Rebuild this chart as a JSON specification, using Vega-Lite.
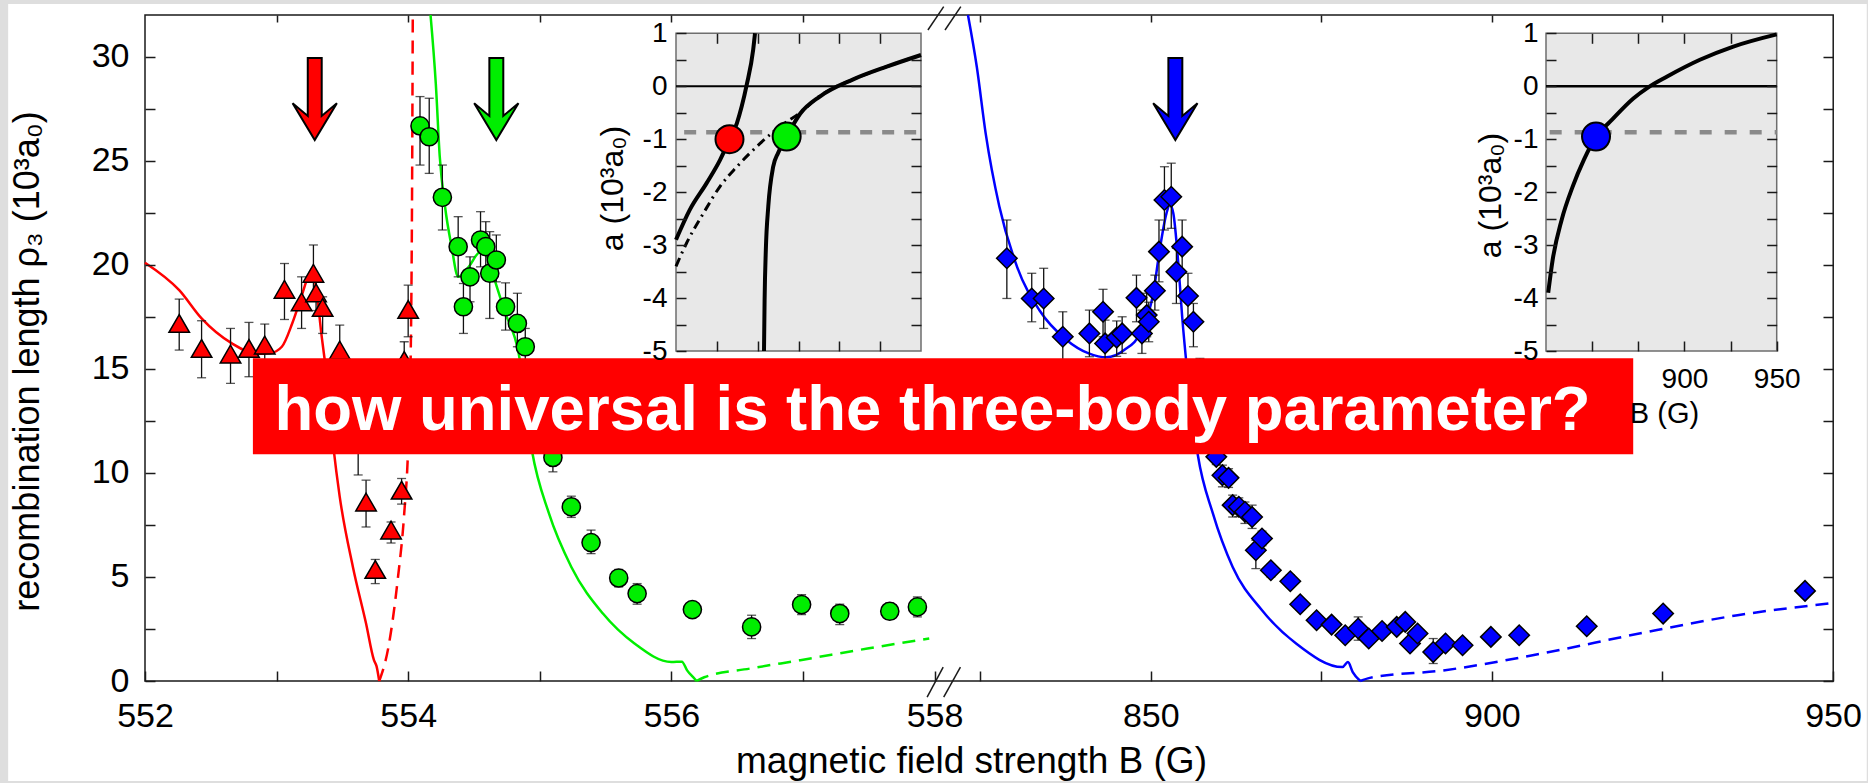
{
"$schema":"https://vega.github.io/schema/vega-lite/v6.json",
"width":1688,"height":666,
"autosize":{"type":"none"},
"padding":{"left":145,"top":15,"right":35,"bottom":102},
"background":"#dedede",
"config":{
 "font":"Liberation Sans",
 "view":{"stroke":null},
 "axis":{"domain":false,"grid":false,"labelFont":"Liberation Sans","titleFont":"Liberation Sans","labelColor":"#000","titleColor":"#000","tickColor":"#1a1a1a","tickWidth":1.5,"labelFlush":false,"labelOverlap":false,"titleFontWeight":"normal","labelFontWeight":"normal"}
},
"resolve":{"scale":{"x":"independent","y":"independent"},"axis":{"x":"independent","y":"independent"}},
"datasets":{
 "pts":[
  {"s":"red","B":552.26,"r":17.18,"lo":15.9,"hi":18.35},
  {"s":"red","B":552.43,"r":15.98,"lo":14.57,"hi":17.31},
  {"s":"red","B":552.65,"r":15.71,"lo":14.3,"hi":16.94},
  {"s":"red","B":552.79,"r":15.98,"lo":14.62,"hi":17.23},
  {"s":"red","B":552.91,"r":16.14,"lo":15.1,"hi":17.15},
  {"s":"red","B":553.06,"r":18.82,"lo":17.37,"hi":20.06},
  {"s":"red","B":553.19,"r":18.22,"lo":16.94,"hi":19.42},
  {"s":"red","B":553.28,"r":19.59,"lo":18.3,"hi":20.95},
  {"s":"red","B":553.3,"r":18.65,"lo":17.8,"hi":19.3},
  {"s":"red","B":553.35,"r":17.95,"lo":16.7,"hi":18.46},
  {"s":"red","B":553.48,"r":15.9,"lo":14.55,"hi":17.1},
  {"s":"red","B":553.62,"r":11.6,"lo":9.9,"hi":13.2},
  {"s":"red","B":553.68,"r":8.6,"lo":7.4,"hi":9.65},
  {"s":"red","B":553.75,"r":5.36,"lo":4.68,"hi":5.84},
  {"s":"red","B":553.87,"r":7.25,"lo":6.63,"hi":7.64},
  {"s":"red","B":553.95,"r":9.17,"lo":8.5,"hi":9.73},
  {"s":"red","B":553.97,"r":15.4,"lo":14.5,"hi":16.3},
  {"s":"red","B":554.0,"r":17.85,"lo":16.54,"hi":19.02},
  {"s":"green","B":554.09,"r":26.67,"lo":24.79,"hi":28.08},
  {"s":"green","B":554.16,"r":26.15,"lo":24.39,"hi":28.0},
  {"s":"green","B":554.26,"r":23.24,"lo":21.67,"hi":24.79},
  {"s":"green","B":554.38,"r":20.87,"lo":19.42,"hi":22.31},
  {"s":"green","B":554.42,"r":17.98,"lo":16.7,"hi":19.1},
  {"s":"green","B":554.47,"r":19.42,"lo":18.22,"hi":20.38},
  {"s":"green","B":554.55,"r":21.19,"lo":19.9,"hi":22.55},
  {"s":"green","B":554.59,"r":20.87,"lo":19.42,"hi":22.07},
  {"s":"green","B":554.62,"r":19.59,"lo":17.42,"hi":21.59},
  {"s":"green","B":554.67,"r":20.23,"lo":19.18,"hi":21.43},
  {"s":"green","B":554.74,"r":17.98,"lo":16.86,"hi":19.13},
  {"s":"green","B":554.83,"r":17.18,"lo":16.06,"hi":18.63},
  {"s":"green","B":554.89,"r":16.06,"lo":15.1,"hi":16.94},
  {"s":"green","B":554.96,"r":13.2,"lo":12.5,"hi":13.9},
  {"s":"green","B":555.1,"r":10.74,"lo":10.05,"hi":11.17},
  {"s":"green","B":555.24,"r":8.37,"lo":7.86,"hi":8.88},
  {"s":"green","B":555.39,"r":6.65,"lo":6.12,"hi":7.25},
  {"s":"green","B":555.6,"r":4.95,"lo":4.52,"hi":5.36},
  {"s":"green","B":555.74,"r":4.2,"lo":3.69,"hi":4.68},
  {"s":"green","B":556.16,"r":3.43,"lo":3.05,"hi":3.8},
  {"s":"green","B":556.61,"r":2.6,"lo":2.04,"hi":3.16},
  {"s":"green","B":556.99,"r":3.67,"lo":3.19,"hi":4.15},
  {"s":"green","B":557.28,"r":3.24,"lo":2.71,"hi":3.69},
  {"s":"green","B":557.66,"r":3.35,"lo":3.0,"hi":3.75},
  {"s":"green","B":557.87,"r":3.56,"lo":3.08,"hi":4.04},
  {"s":"blue","B":828.9,"r":20.31,"lo":18.38,"hi":22.15},
  {"s":"blue","B":832.55,"r":18.38,"lo":17.26,"hi":19.59},
  {"s":"blue","B":834.3,"r":18.38,"lo":16.94,"hi":19.83},
  {"s":"blue","B":837.1,"r":16.54,"lo":15.42,"hi":17.74},
  {"s":"blue","B":841.0,"r":16.7,"lo":15.58,"hi":17.82},
  {"s":"blue","B":843.0,"r":17.74,"lo":16.54,"hi":18.82},
  {"s":"blue","B":843.3,"r":16.22,"lo":15.4,"hi":17.34},
  {"s":"blue","B":845.0,"r":16.5,"lo":15.6,"hi":17.3},
  {"s":"blue","B":845.8,"r":16.7,"lo":15.74,"hi":17.5},
  {"s":"blue","B":847.9,"r":18.41,"lo":17.26,"hi":19.5},
  {"s":"blue","B":848.7,"r":16.7,"lo":15.74,"hi":17.82},
  {"s":"blue","B":849.4,"r":17.58,"lo":16.54,"hi":18.63},
  {"s":"blue","B":849.7,"r":17.26,"lo":16.3,"hi":18.2},
  {"s":"blue","B":850.6,"r":18.75,"lo":17.82,"hi":19.5},
  {"s":"blue","B":851.2,"r":20.63,"lo":19.18,"hi":22.15},
  {"s":"blue","B":852.0,"r":23.11,"lo":21.67,"hi":24.71},
  {"s":"blue","B":853.0,"r":23.27,"lo":21.75,"hi":24.88},
  {"s":"blue","B":853.75,"r":19.66,"lo":18.14,"hi":20.79},
  {"s":"blue","B":854.6,"r":20.87,"lo":19.59,"hi":22.15},
  {"s":"blue","B":855.45,"r":18.5,"lo":17.34,"hi":19.59},
  {"s":"blue","B":856.25,"r":17.26,"lo":16.06,"hi":18.14},
  {"s":"blue","B":857.2,"r":14.5,"lo":13.5,"hi":15.5},
  {"s":"blue","B":858.3,"r":12.5,"lo":11.8,"hi":13.2},
  {"s":"blue","B":859.6,"r":10.77,"lo":10.4,"hi":11.2},
  {"s":"blue","B":860.5,"r":9.89,"lo":9.33,"hi":10.37},
  {"s":"blue","B":861.4,"r":9.76,"lo":9.3,"hi":10.2},
  {"s":"blue","B":862.0,"r":8.45,"lo":7.88,"hi":8.93},
  {"s":"blue","B":862.9,"r":8.37,"lo":7.9,"hi":8.8},
  {"s":"blue","B":863.8,"r":8.13,"lo":7.57,"hi":8.6},
  {"s":"blue","B":864.85,"r":7.88,"lo":7.33,"hi":8.45},
  {"s":"blue","B":865.4,"r":6.28,"lo":5.4,"hi":6.76},
  {"s":"blue","B":866.3,"r":6.85,"lo":6.5,"hi":7.2},
  {"s":"blue","B":867.6,"r":5.32,"lo":5.0,"hi":5.6},
  {"s":"blue","B":870.45,"r":4.79,"lo":4.5,"hi":5.1},
  {"s":"blue","B":871.9,"r":3.69,"lo":3.4,"hi":3.95},
  {"s":"blue","B":874.3,"r":2.92,"lo":2.7,"hi":3.15},
  {"s":"blue","B":876.5,"r":2.71,"lo":2.5,"hi":2.95},
  {"s":"blue","B":878.5,"r":2.2,"lo":2.0,"hi":2.45},
  {"s":"blue","B":880.4,"r":2.52,"lo":1.96,"hi":3.08},
  {"s":"blue","B":881.95,"r":2.04,"lo":1.8,"hi":2.3},
  {"s":"blue","B":883.9,"r":2.4,"lo":2.15,"hi":2.65},
  {"s":"blue","B":886.05,"r":2.6,"lo":2.35,"hi":2.85},
  {"s":"blue","B":887.3,"r":2.84,"lo":2.6,"hi":3.1},
  {"s":"blue","B":888.0,"r":1.8,"lo":1.55,"hi":2.05},
  {"s":"blue","B":889.1,"r":2.28,"lo":2.05,"hi":2.5},
  {"s":"blue","B":891.4,"r":1.39,"lo":0.84,"hi":2.04},
  {"s":"blue","B":893.2,"r":1.8,"lo":1.55,"hi":2.05},
  {"s":"blue","B":895.7,"r":1.72,"lo":1.5,"hi":1.95},
  {"s":"blue","B":899.85,"r":2.12,"lo":1.9,"hi":2.35},
  {"s":"blue","B":904.0,"r":2.2,"lo":1.95,"hi":2.45},
  {"s":"blue","B":913.9,"r":2.63,"lo":2.4,"hi":2.85},
  {"s":"blue","B":925.1,"r":3.24,"lo":3.0,"hi":3.5},
  {"s":"blue","B":945.9,"r":4.33,"lo":4.1,"hi":4.55}
 ],
 "curves":[
  {"s":"red","br":"neg","B":552.0,"r":20.1},
  {"s":"red","br":"neg","B":552.26,"r":18.78},
  {"s":"red","br":"neg","B":552.43,"r":17.42},
  {"s":"red","br":"neg","B":552.66,"r":16.22},
  {"s":"red","br":"neg","B":552.85,"r":15.72},
  {"s":"red","br":"neg","B":552.95,"r":15.75},
  {"s":"red","br":"neg","B":553.04,"r":16.06},
  {"s":"red","br":"neg","B":553.12,"r":17.2},
  {"s":"red","br":"neg","B":553.19,"r":18.5},
  {"s":"red","br":"neg","B":553.24,"r":19.45},
  {"s":"red","br":"neg","B":553.27,"r":19.8},
  {"s":"red","br":"neg","B":553.31,"r":18.4},
  {"s":"red","br":"neg","B":553.34,"r":16.7},
  {"s":"red","br":"neg","B":553.37,"r":15.2},
  {"s":"red","br":"neg","B":553.43,"r":11.33},
  {"s":"red","br":"neg","B":553.48,"r":8.85},
  {"s":"red","br":"neg","B":553.58,"r":5.48},
  {"s":"red","br":"neg","B":553.68,"r":2.76},
  {"s":"red","br":"neg","B":553.74,"r":1.0},
  {"s":"red","br":"neg","B":553.76,"r":0.7},
  {"s":"red","br":"neg","B":553.78,"r":0.0},
  {"s":"red","br":"pos","B":553.78,"r":0.0},
  {"s":"red","br":"pos","B":553.85,"r":1.63},
  {"s":"red","br":"pos","B":553.92,"r":4.84},
  {"s":"red","br":"pos","B":553.97,"r":8.05},
  {"s":"red","br":"pos","B":554.0,"r":11.25},
  {"s":"red","br":"pos","B":554.02,"r":16.0},
  {"s":"red","br":"pos","B":554.03,"r":24.0},
  {"s":"red","br":"pos","B":554.035,"r":32.0},
  {"s":"green","br":"neg","B":554.17,"r":32.0},
  {"s":"green","br":"neg","B":554.21,"r":28.7},
  {"s":"green","br":"neg","B":554.24,"r":25.2},
  {"s":"green","br":"neg","B":554.28,"r":22.8},
  {"s":"green","br":"neg","B":554.33,"r":20.87},
  {"s":"green","br":"neg","B":554.38,"r":19.42},
  {"s":"green","br":"neg","B":554.46,"r":19.9},
  {"s":"green","br":"neg","B":554.55,"r":20.63},
  {"s":"green","br":"neg","B":554.6,"r":20.4},
  {"s":"green","br":"neg","B":554.65,"r":19.42},
  {"s":"green","br":"neg","B":554.73,"r":17.82},
  {"s":"green","br":"neg","B":554.84,"r":15.74},
  {"s":"green","br":"neg","B":554.94,"r":11.09},
  {"s":"green","br":"neg","B":555.07,"r":8.05},
  {"s":"green","br":"neg","B":555.24,"r":5.48},
  {"s":"green","br":"neg","B":555.48,"r":3.24},
  {"s":"green","br":"neg","B":555.72,"r":1.8},
  {"s":"green","br":"neg","B":556.0,"r":0.91},
  {"s":"green","br":"neg","B":556.08,"r":0.93},
  {"s":"green","br":"neg","B":556.12,"r":0.51},
  {"s":"green","br":"neg","B":556.18,"r":0.08},
  {"s":"green","br":"neg","B":556.19,"r":0.0},
  {"s":"green","br":"pos","B":556.19,"r":0.0},
  {"s":"green","br":"pos","B":556.25,"r":0.18},
  {"s":"green","br":"pos","B":556.6,"r":0.6},
  {"s":"green","br":"pos","B":556.98,"r":1.0},
  {"s":"green","br":"pos","B":557.49,"r":1.56},
  {"s":"green","br":"pos","B":557.96,"r":2.04},
  {"s":"blue","br":"neg","B":823.2,"r":32.0},
  {"s":"blue","br":"neg","B":824.5,"r":29.5},
  {"s":"blue","br":"neg","B":825.8,"r":26.3},
  {"s":"blue","br":"neg","B":827.8,"r":22.8},
  {"s":"blue","br":"neg","B":830.4,"r":19.9},
  {"s":"blue","br":"neg","B":833.7,"r":17.8},
  {"s":"blue","br":"neg","B":837.6,"r":16.4},
  {"s":"blue","br":"neg","B":840.9,"r":15.74},
  {"s":"blue","br":"neg","B":843.5,"r":15.55},
  {"s":"blue","br":"neg","B":846.1,"r":15.9},
  {"s":"blue","br":"neg","B":848.7,"r":16.86},
  {"s":"blue","br":"neg","B":850.35,"r":18.6},
  {"s":"blue","br":"neg","B":851.3,"r":20.7},
  {"s":"blue","br":"neg","B":852.3,"r":22.47},
  {"s":"blue","br":"neg","B":852.8,"r":22.9},
  {"s":"blue","br":"neg","B":853.3,"r":22.47},
  {"s":"blue","br":"neg","B":854.0,"r":20.2},
  {"s":"blue","br":"neg","B":854.6,"r":17.5},
  {"s":"blue","br":"neg","B":855.3,"r":15.0},
  {"s":"blue","br":"neg","B":856.9,"r":10.85},
  {"s":"blue","br":"neg","B":859.1,"r":8.05},
  {"s":"blue","br":"neg","B":862.0,"r":5.48},
  {"s":"blue","br":"neg","B":866.3,"r":3.4},
  {"s":"blue","br":"neg","B":871.3,"r":1.8},
  {"s":"blue","br":"neg","B":878.1,"r":0.67},
  {"s":"blue","br":"neg","B":878.9,"r":0.91},
  {"s":"blue","br":"neg","B":879.6,"r":0.43},
  {"s":"blue","br":"neg","B":880.7,"r":0.0},
  {"s":"blue","br":"pos","B":880.7,"r":0.0},
  {"s":"blue","br":"pos","B":882.1,"r":0.15},
  {"s":"blue","br":"pos","B":892.9,"r":0.51},
  {"s":"blue","br":"pos","B":907.3,"r":1.32},
  {"s":"blue","br":"pos","B":921.6,"r":2.28},
  {"s":"blue","br":"pos","B":936.0,"r":3.16},
  {"s":"blue","br":"pos","B":950.0,"r":3.75}
 ],
 "arrows":[{"s":"red","B":553.29},{"s":"green","B":554.67},{"s":"blue","B":853.6}],
 "insetCurves":[
  {"c":"L1","B":552.0,"a":-2.9},{"c":"L1","B":552.34,"a":-2.33},{"c":"L1","B":552.75,"a":-1.83},{"c":"L1","B":553.08,"a":-1.39},{"c":"L1","B":553.31,"a":-1.01},{"c":"L1","B":553.49,"a":-0.7},{"c":"L1","B":553.61,"a":-0.38},{"c":"L1","B":553.73,"a":0.02},{"c":"L1","B":553.89,"a":0.69},{"c":"L1","B":553.935,"a":1.0},
  {"c":"L2","B":554.155,"a":-5.0},{"c":"L2","B":554.17,"a":-4.03},{"c":"L2","B":554.2,"a":-3.09},{"c":"L2","B":554.26,"a":-2.27},{"c":"L2","B":554.38,"a":-1.52},{"c":"L2","B":554.5,"a":-1.26},{"c":"L2","B":554.71,"a":-0.95},{"c":"L2","B":555.04,"a":-0.52},{"c":"L2","B":555.53,"a":-0.19},{"c":"L2","B":556.34,"a":0.13},{"c":"L2","B":557.16,"a":0.37},{"c":"L2","B":558.0,"a":0.59},
  {"c":"LDD","B":552.0,"a":-3.4},{"c":"LDD","B":552.26,"a":-2.96},{"c":"LDD","B":552.67,"a":-2.4},{"c":"LDD","B":553.08,"a":-1.89},{"c":"LDD","B":553.49,"a":-1.52},{"c":"LDD","B":554.06,"a":-1.08},{"c":"LDD","B":554.55,"a":-0.76},{"c":"LDD","B":555.04,"a":-0.5},{"c":"LDD","B":555.53,"a":-0.18},{"c":"LDD","B":556.34,"a":0.13},{"c":"LDD","B":557.16,"a":0.37},{"c":"LDD","B":558.0,"a":0.59},
  {"c":"R1","B":826.2,"a":-3.9},{"c":"R1","B":828.6,"a":-3.28},{"c":"R1","B":833.5,"a":-2.52},{"c":"R1","B":839.5,"a":-1.89},{"c":"R1","B":845.5,"a":-1.39},{"c":"R1","B":852.1,"a":-0.95},{"c":"R1","B":859.7,"a":-0.67},{"c":"R1","B":872.3,"a":-0.23},{"c":"R1","B":880.4,"a":-0.02},{"c":"R1","B":890.4,"a":0.18},{"c":"R1","B":908.4,"a":0.5},{"c":"R1","B":926.5,"a":0.75},{"c":"R1","B":950.0,"a":0.98}
 ],
 "insetPts":[{"s":"red","B":553.31,"a":-1.0},{"s":"green","B":554.71,"a":-0.95},{"s":"blue","B":852.1,"a":-0.95}]
},
"layer":[
 {"data":{"values":[{}]},"layer":[
  {"mark":{"type":"rect","fill":"#ffffff"},
   "encoding":{"x":{"datum":550.96,"type":"quantitative","scale":{"domain":[552,558],"range":[0,789.5],"nice":false,"zero":false},"axis":null},"x2":{"datum":565.085},
   "y":{"datum":32.53,"type":"quantitative","scale":{"domain":[0,32],"range":[666,0],"nice":false,"zero":false},"axis":null},"y2":{"datum":-4.81}}},
  {"mark":{"type":"rect","fillOpacity":0,"stroke":"#1a1a1a","strokeWidth":1.5},
   "encoding":{"x":{"datum":552,"type":"quantitative","scale":{"domain":[552,558],"range":[0,789.5],"nice":false,"zero":false},"axis":null},"x2":{"datum":564.83},
   "y":{"datum":32,"type":"quantitative","scale":{"domain":[0,32],"range":[666,0],"nice":false,"zero":false},"axis":null},"y2":{"datum":0}}}
 ]},
 {"layer":[
  {"data":{"name":"curves"},"transform":[{"filter":"datum.s !== 'blue' && datum.br === 'neg'"}],
   "mark":{"type":"line","strokeWidth":2.5,"interpolate":"monotone"},
   "encoding":{
    "x":{"field":"B","type":"quantitative","scale":{"domain":[552,558],"range":[0,789.5],"nice":false,"zero":false},"axis":null},
    "y":{"field":"r","type":"quantitative","scale":{"domain":[0,32],"range":[666,0],"nice":false,"zero":false},"axis":null},
    "color":{"field":"s","type":"nominal","scale":{"domain":["red","green","blue"],"range":["#ff0000","#00ee00","#0000ff"]},"legend":null}}},
  {"data":{"name":"curves"},"transform":[{"filter":"datum.s !== 'blue' && datum.br === 'pos'"}],
   "mark":{"type":"line","strokeWidth":2.5,"strokeDash":[13,8],"interpolate":"monotone"},
   "encoding":{
    "x":{"field":"B","type":"quantitative","scale":{"domain":[552,558],"range":[0,789.5],"nice":false,"zero":false},"axis":null},
    "y":{"field":"r","type":"quantitative","scale":{"domain":[0,32],"range":[666,0],"nice":false,"zero":false},"axis":null},
    "color":{"field":"s","type":"nominal","scale":{"domain":["red","green","blue"],"range":["#ff0000","#00ee00","#0000ff"]},"legend":null}}},
  {"data":{"name":"pts"},"transform":[{"filter":"datum.s !== 'blue'"}],
   "mark":{"type":"rule","color":"#111","strokeWidth":1.3},
   "encoding":{
    "x":{"field":"B","type":"quantitative","scale":{"domain":[552,558],"range":[0,789.5],"nice":false,"zero":false},"axis":null},
    "y":{"field":"lo","type":"quantitative","scale":{"domain":[0,32],"range":[666,0],"nice":false,"zero":false},"axis":null},
    "y2":{"field":"hi"}}},
  {"data":{"name":"pts"},"transform":[{"filter":"datum.s !== 'blue'"}],
   "mark":{"type":"tick","orient":"horizontal","size":9,"thickness":1.3,"color":"#111"},
   "encoding":{
    "x":{"field":"B","type":"quantitative","scale":{"domain":[552,558],"range":[0,789.5],"nice":false,"zero":false},"axis":null},
    "y":{"field":"lo","type":"quantitative","scale":{"domain":[0,32],"range":[666,0],"nice":false,"zero":false},"axis":null}}},
  {"data":{"name":"pts"},"transform":[{"filter":"datum.s !== 'blue'"}],
   "mark":{"type":"tick","orient":"horizontal","size":9,"thickness":1.3,"color":"#111"},
   "encoding":{
    "x":{"field":"B","type":"quantitative","scale":{"domain":[552,558],"range":[0,789.5],"nice":false,"zero":false},"axis":null},
    "y":{"field":"hi","type":"quantitative","scale":{"domain":[0,32],"range":[666,0],"nice":false,"zero":false},"axis":null}}},
  {"data":{"name":"pts"},"transform":[{"filter":"datum.s !== 'blue'"}],
   "mark":{"type":"point","filled":true,"opacity":1,"stroke":"#000","strokeWidth":1.5},
   "encoding":{
    "x":{"field":"B","type":"quantitative","scale":{"domain":[552,558],"range":[0,789.5],"nice":false,"zero":false},"axis":null},
    "y":{"field":"r","type":"quantitative","scale":{"domain":[0,32],"range":[666,0],"nice":false,"zero":false},"axis":null},
    "fill":{"field":"s","type":"nominal","scale":{"domain":["red","green","blue"],"range":["#ff0000","#00ee00","#0000ff"]},"legend":null},
    "shape":{"field":"s","type":"nominal","scale":{"domain":["red","green","blue"],"range":["triangle-up","circle","diamond"]},"legend":null},
    "size":{"field":"s","type":"ordinal","scale":{"domain":["red","green","blue"],"range":[420,240,420]},"legend":null}}},
  {"data":{"name":"arrows"},"transform":[{"filter":"datum.s !== 'blue'"}],
   "mark":{"type":"point","shape":"M-0.17,-1L0.17,-1L0.17,0.41L0.54,0.1L0,1L-0.54,0.1L-0.17,0.41Z","size":6724,"filled":true,"opacity":1,"stroke":"#000","strokeWidth":2},
   "encoding":{
    "x":{"field":"B","type":"quantitative","scale":{"domain":[552,558],"range":[0,789.5],"nice":false,"zero":false},"axis":null},
    "y":{"datum":27.96,"type":"quantitative","scale":{"domain":[0,32],"range":[666,0],"nice":false,"zero":false},"axis":null},
    "fill":{"field":"s","type":"nominal","scale":{"domain":["red","green","blue"],"range":["#ff0000","#00ee00","#0000ff"]},"legend":null}}}
 ]},
 {"layer":[
  {"data":{"name":"curves"},"transform":[{"filter":"datum.s === 'blue' && datum.br === 'neg'"}],
   "mark":{"type":"line","strokeWidth":2.5,"interpolate":"monotone","color":"#0000ff"},
   "encoding":{
    "x":{"field":"B","type":"quantitative","scale":{"domain":[821.3,950],"range":[810,1688],"nice":false,"zero":false},"axis":null},
    "y":{"field":"r","type":"quantitative","scale":{"domain":[0,32],"range":[666,0],"nice":false,"zero":false},"axis":null}}},
  {"data":{"name":"curves"},"transform":[{"filter":"datum.s === 'blue' && datum.br === 'pos'"}],
   "mark":{"type":"line","strokeWidth":2.5,"strokeDash":[13,8],"interpolate":"monotone","color":"#0000ff"},
   "encoding":{
    "x":{"field":"B","type":"quantitative","scale":{"domain":[821.3,950],"range":[810,1688],"nice":false,"zero":false},"axis":null},
    "y":{"field":"r","type":"quantitative","scale":{"domain":[0,32],"range":[666,0],"nice":false,"zero":false},"axis":null}}},
  {"data":{"name":"pts"},"transform":[{"filter":"datum.s === 'blue'"}],
   "mark":{"type":"rule","color":"#111","strokeWidth":1.3},
   "encoding":{
    "x":{"field":"B","type":"quantitative","scale":{"domain":[821.3,950],"range":[810,1688],"nice":false,"zero":false},"axis":null},
    "y":{"field":"lo","type":"quantitative","scale":{"domain":[0,32],"range":[666,0],"nice":false,"zero":false},"axis":null},
    "y2":{"field":"hi"}}},
  {"data":{"name":"pts"},"transform":[{"filter":"datum.s === 'blue'"}],
   "mark":{"type":"tick","orient":"horizontal","size":9,"thickness":1.3,"color":"#111"},
   "encoding":{
    "x":{"field":"B","type":"quantitative","scale":{"domain":[821.3,950],"range":[810,1688],"nice":false,"zero":false},"axis":null},
    "y":{"field":"lo","type":"quantitative","scale":{"domain":[0,32],"range":[666,0],"nice":false,"zero":false},"axis":null}}},
  {"data":{"name":"pts"},"transform":[{"filter":"datum.s === 'blue'"}],
   "mark":{"type":"tick","orient":"horizontal","size":9,"thickness":1.3,"color":"#111"},
   "encoding":{
    "x":{"field":"B","type":"quantitative","scale":{"domain":[821.3,950],"range":[810,1688],"nice":false,"zero":false},"axis":null},
    "y":{"field":"hi","type":"quantitative","scale":{"domain":[0,32],"range":[666,0],"nice":false,"zero":false},"axis":null}}},
  {"data":{"name":"pts"},"transform":[{"filter":"datum.s === 'blue'"}],
   "mark":{"type":"point","filled":true,"opacity":1,"stroke":"#000","strokeWidth":1.5,"shape":"diamond","size":420,"fill":"#0000ff"},
   "encoding":{
    "x":{"field":"B","type":"quantitative","scale":{"domain":[821.3,950],"range":[810,1688],"nice":false,"zero":false},"axis":null},
    "y":{"field":"r","type":"quantitative","scale":{"domain":[0,32],"range":[666,0],"nice":false,"zero":false},"axis":null}}},
  {"data":{"name":"arrows"},"transform":[{"filter":"datum.s === 'blue'"}],
   "mark":{"type":"point","shape":"M-0.17,-1L0.17,-1L0.17,0.41L0.54,0.1L0,1L-0.54,0.1L-0.17,0.41Z","size":6724,"filled":true,"opacity":1,"fill":"#0000ff","stroke":"#000","strokeWidth":2},
   "encoding":{
    "x":{"field":"B","type":"quantitative","scale":{"domain":[821.3,950],"range":[810,1688],"nice":false,"zero":false},"axis":null},
    "y":{"datum":27.96,"type":"quantitative","scale":{"domain":[0,32],"range":[666,0],"nice":false,"zero":false},"axis":null}}}
 ]},
 {"layer":[
  {"data":{"values":[{}]},"mark":{"type":"rect","fill":"#e8e8e8","stroke":"#6e6e6e","strokeWidth":1.5},
   "encoding":{
    "x":{"datum":552,"type":"quantitative","scale":{"domain":[552,558],"range":[531,776],"nice":false,"zero":false},"axis":null},
    "x2":{"datum":558},
    "y":{"datum":-5,"type":"quantitative","scale":{"domain":[-5,1],"range":[336,18.3],"nice":false,"zero":false},"axis":null},
    "y2":{"datum":1}}},
  {"data":{"values":[{}]},"mark":{"type":"rule","color":"#000","strokeWidth":2},
   "encoding":{
    "x":{"datum":552,"type":"quantitative","scale":{"domain":[552,558],"range":[531,776],"nice":false,"zero":false},"axis":null},"x2":{"datum":558},
    "y":{"datum":0,"type":"quantitative","scale":{"domain":[-5,1],"range":[336,18.3],"nice":false,"zero":false},"axis":null}}},
  {"data":{"values":[{}]},"mark":{"type":"rule","color":"#8a8a8a","strokeWidth":4.5,"strokeDash":[12,10]},
   "encoding":{
    "x":{"datum":552.2,"type":"quantitative","scale":{"domain":[552,558],"range":[531,776],"nice":false,"zero":false},"axis":null},"x2":{"datum":558},
    "y":{"datum":-0.87,"type":"quantitative","scale":{"domain":[-5,1],"range":[336,18.3],"nice":false,"zero":false},"axis":null}}},
  {"data":{"name":"insetCurves"},"transform":[{"filter":"datum.c === 'LDD'"}],
   "mark":{"type":"line","color":"#000","strokeWidth":3,"strokeDash":[9,5,2,5],"interpolate":"monotone"},
   "encoding":{
    "x":{"field":"B","type":"quantitative","scale":{"domain":[552,558],"range":[531,776],"nice":false,"zero":false},"axis":null},
    "y":{"field":"a","type":"quantitative","scale":{"domain":[-5,1],"range":[336,18.3],"nice":false,"zero":false},"axis":null}}},
  {"data":{"name":"insetCurves"},"transform":[{"filter":"datum.c === 'L1' || datum.c === 'L2'"}],
   "mark":{"type":"line","color":"#000","strokeWidth":4,"interpolate":"monotone"},
   "encoding":{
    "x":{"field":"B","type":"quantitative","scale":{"domain":[552,558],"range":[531,776],"nice":false,"zero":false},"axis":null},
    "y":{"field":"a","type":"quantitative","scale":{"domain":[-5,1],"range":[336,18.3],"nice":false,"zero":false},"axis":null},
    "detail":{"field":"c"}}},
  {"data":{"name":"insetPts"},"transform":[{"filter":"datum.s !== 'blue'"}],
   "mark":{"type":"point","shape":"circle","size":784,"filled":true,"opacity":1,"stroke":"#000","strokeWidth":2},
   "encoding":{
    "x":{"field":"B","type":"quantitative","scale":{"domain":[552,558],"range":[531,776],"nice":false,"zero":false},"axis":null},
    "y":{"field":"a","type":"quantitative","scale":{"domain":[-5,1],"range":[336,18.3],"nice":false,"zero":false},"axis":null},
    "fill":{"field":"s","type":"nominal","scale":{"domain":["red","green","blue"],"range":["#ff0000","#00ee00","#0000ff"]},"legend":null}}}
 ]},
 {"layer":[
  {"data":{"values":[{}]},"mark":{"type":"rect","fill":"#e8e8e8","stroke":"#6e6e6e","strokeWidth":1.5},
   "encoding":{
    "x":{"datum":825,"type":"quantitative","scale":{"domain":[825,950],"range":[1401,1631.7],"nice":false,"zero":false},"axis":null},
    "x2":{"datum":950},
    "y":{"datum":-5,"type":"quantitative","scale":{"domain":[-5,1],"range":[336,18.3],"nice":false,"zero":false},"axis":null},
    "y2":{"datum":1}}},
  {"data":{"values":[{}]},"mark":{"type":"rule","color":"#000","strokeWidth":2.5},
   "encoding":{
    "x":{"datum":825,"type":"quantitative","scale":{"domain":[825,950],"range":[1401,1631.7],"nice":false,"zero":false},"axis":null},"x2":{"datum":950},
    "y":{"datum":0,"type":"quantitative","scale":{"domain":[-5,1],"range":[336,18.3],"nice":false,"zero":false},"axis":null}}},
  {"data":{"values":[{}]},"mark":{"type":"rule","color":"#8a8a8a","strokeWidth":4.5,"strokeDash":[12,13]},
   "encoding":{
    "x":{"datum":827,"type":"quantitative","scale":{"domain":[825,950],"range":[1401,1631.7],"nice":false,"zero":false},"axis":null},"x2":{"datum":950},
    "y":{"datum":-0.87,"type":"quantitative","scale":{"domain":[-5,1],"range":[336,18.3],"nice":false,"zero":false},"axis":null}}},
  {"data":{"name":"insetCurves"},"transform":[{"filter":"datum.c === 'R1'"}],
   "mark":{"type":"line","color":"#000","strokeWidth":4,"interpolate":"monotone"},
   "encoding":{
    "x":{"field":"B","type":"quantitative","scale":{"domain":[825,950],"range":[1401,1631.7],"nice":false,"zero":false},"axis":null},
    "y":{"field":"a","type":"quantitative","scale":{"domain":[-5,1],"range":[336,18.3],"nice":false,"zero":false},"axis":null}}},
  {"data":{"name":"insetPts"},"transform":[{"filter":"datum.s === 'blue'"}],
   "mark":{"type":"point","shape":"circle","size":784,"filled":true,"opacity":1,"fill":"#0000ff","stroke":"#000","strokeWidth":2},
   "encoding":{
    "x":{"field":"B","type":"quantitative","scale":{"domain":[825,950],"range":[1401,1631.7],"nice":false,"zero":false},"axis":null},
    "y":{"field":"a","type":"quantitative","scale":{"domain":[-5,1],"range":[336,18.3],"nice":false,"zero":false},"axis":null}}}
 ]},
 {"data":{"values":[{}]},"layer":[
  {"mark":{"type":"rule","color":"#1a1a1a","strokeWidth":1.5},
   "encoding":{"x":{"datum":557.944,"type":"quantitative","scale":{"domain":[552,558],"range":[0,789.5],"nice":false,"zero":false},"axis":null},"x2":{"datum":558.066},
    "y":{"datum":-0.77,"type":"quantitative","scale":{"domain":[0,32],"range":[666,0],"nice":false,"zero":false},"axis":null},"y2":{"datum":0.67}}},
  {"mark":{"type":"rule","color":"#1a1a1a","strokeWidth":1.5},
   "encoding":{"x":{"datum":558.07,"type":"quantitative","scale":{"domain":[552,558],"range":[0,789.5],"nice":false,"zero":false},"axis":null},"x2":{"datum":558.197},
    "y":{"datum":-0.77,"type":"quantitative","scale":{"domain":[0,32],"range":[666,0],"nice":false,"zero":false},"axis":null},"y2":{"datum":0.67}}},
  {"mark":{"type":"rule","color":"#1a1a1a","strokeWidth":1.5},
   "encoding":{"x":{"datum":557.95,"type":"quantitative","scale":{"domain":[552,558],"range":[0,789.5],"nice":false,"zero":false},"axis":null},"x2":{"datum":558.07},
    "y":{"datum":31.28,"type":"quantitative","scale":{"domain":[0,32],"range":[666,0],"nice":false,"zero":false},"axis":null},"y2":{"datum":32.4}}},
  {"mark":{"type":"rule","color":"#1a1a1a","strokeWidth":1.5},
   "encoding":{"x":{"datum":558.08,"type":"quantitative","scale":{"domain":[552,558],"range":[0,789.5],"nice":false,"zero":false},"axis":null},"x2":{"datum":558.2},
    "y":{"datum":31.28,"type":"quantitative","scale":{"domain":[0,32],"range":[666,0],"nice":false,"zero":false},"axis":null},"y2":{"datum":32.4}}}
 ]},
 {"data":{"values":[{}]},"layer":[
  {"mark":{"type":"rect","fill":"#ff0000"},
   "encoding":{"x":{"datum":552.82,"type":"quantitative","scale":{"domain":[552,558],"range":[0,789.5],"nice":false,"zero":false},"axis":null},"x2":{"datum":563.31},
    "y":{"datum":15.51,"type":"quantitative","scale":{"domain":[0,32],"range":[666,0],"nice":false,"zero":false},"axis":null},"y2":{"datum":10.9}}},
  {"mark":{"type":"text","font":"Liberation Sans","fontWeight":"bold","fontSize":63.5,"color":"#ffffff","align":"center","baseline":"alphabetic"},
   "encoding":{"x":{"datum":557.985,"type":"quantitative","scale":{"domain":[552,558],"range":[0,789.5],"nice":false,"zero":false},"axis":null},
    "y":{"datum":12.05,"type":"quantitative","scale":{"domain":[0,32],"range":[666,0],"nice":false,"zero":false},"axis":null},
    "text":{"value":"how universal is the three-body parameter?"}}}
 ]},
 {"data":{"values":[{}]},"mark":{"type":"point","opacity":0},
  "encoding":{
   "x":{"datum":555,"type":"quantitative","scale":{"domain":[552,558],"range":[0,789.5],"nice":false,"zero":false},
     "axis":{"zindex":1,"orient":"bottom","values":[552,553,554,555,556,557,558],"labelExpr":"datum.value % 2 === 0 ? datum.label : ''","tickSize":-10,"labelPadding":28,"labelFontSize":34,"title":"magnetic field strength B (G)","titleFontSize":37,"titleX":826,"titleY":91,"titleAlign":"center","titleBaseline":"alphabetic"}},
   "y":{"datum":16,"type":"quantitative","scale":{"domain":[0,32],"range":[666,0],"nice":false,"zero":false},
     "axis":{"zindex":1,"orient":"left","values":[0,2.5,5,7.5,10,12.5,15,17.5,20,22.5,25,27.5,30],"labelExpr":"datum.value % 5 === 0 ? datum.label : ''","tickSize":-10,"labelPadding":26,"labelFontSize":34,"title":"recombination length ρ₃ (10³a₀)","titleFontSize":36,"titleX":-118,"titleY":346,"titleAngle":-90,"titleAlign":"center","titleBaseline":"middle"}}}},
 {"data":{"values":[{}]},"mark":{"type":"point","opacity":0},
  "encoding":{
   "x":{"datum":555,"type":"quantitative","scale":{"domain":[552,558],"range":[0,789.5],"nice":false,"zero":false},
     "axis":{"zindex":1,"orient":"top","values":[553,554,555,556,557],"labels":false,"tickSize":-7,"title":null}},
   "y":{"datum":16,"type":"quantitative","scale":{"domain":[0,32],"range":[666,0],"nice":false,"zero":false},"axis":null}}},
 {"data":{"values":[{}]},"mark":{"type":"point","opacity":0},
  "encoding":{
   "x":{"datum":900,"type":"quantitative","scale":{"domain":[821.3,950],"range":[810,1688],"nice":false,"zero":false},
     "axis":{"zindex":1,"orient":"bottom","values":[825,850,875,900,925,950],"labelExpr":"datum.value % 50 === 0 ? datum.label : ''","tickSize":-10,"labelPadding":28,"labelFontSize":34,"title":null}},
   "y":{"datum":16,"type":"quantitative","scale":{"domain":[0,32],"range":[666,0],"nice":false,"zero":false},
     "axis":{"zindex":1,"orient":"right","values":[0,2.5,5,7.5,10,12.5,15,17.5,20,22.5,25,27.5,30],"labels":false,"tickSize":-10,"title":null}}}},
 {"data":{"values":[{}]},"mark":{"type":"point","opacity":0},
  "encoding":{
   "x":{"datum":900,"type":"quantitative","scale":{"domain":[821.3,950],"range":[810,1688],"nice":false,"zero":false},
     "axis":{"zindex":1,"orient":"top","values":[825,850,875,900,925],"labels":false,"tickSize":-7,"title":null}},
   "y":{"datum":16,"type":"quantitative","scale":{"domain":[0,32],"range":[666,0],"nice":false,"zero":false},"axis":null}}},
 {"data":{"values":[{}]},"mark":{"type":"point","opacity":0},
  "encoding":{
   "x":{"datum":555,"type":"quantitative","scale":{"domain":[552,558],"range":[531,776],"nice":false,"zero":false},
     "axis":{"zindex":1,"orient":"bottom","offset":-330,"values":[553,554,555,556,557],"labels":false,"tickSize":-10,"title":null}},
   "y":{"datum":0,"type":"quantitative","scale":{"domain":[-5,1],"range":[336,18.3],"nice":false,"zero":false},
     "axis":{"zindex":1,"orient":"left","offset":-531,"values":[-5,-4.5,-4,-3.5,-3,-2.5,-2,-1.5,-1,-0.5,0,0.5,1],"labelExpr":"datum.value % 1 === 0 ? '' + datum.value : ''","tickSize":-10,"labelPadding":19,"labelFontSize":28,"title":"a (10³a₀)","titleFontSize":32,"titleX":-64,"titleY":173,"titleAngle":-90,"titleAlign":"center","titleBaseline":"middle"}}}},
 {"data":{"values":[{}]},"mark":{"type":"point","opacity":0},
  "encoding":{
   "x":{"datum":555,"type":"quantitative","scale":{"domain":[552,558],"range":[531,776],"nice":false,"zero":false},
     "axis":{"zindex":1,"orient":"top","offset":-18.3,"values":[553,554,555,556,557],"labels":false,"tickSize":-10,"title":null}},
   "y":{"datum":0,"type":"quantitative","scale":{"domain":[-5,1],"range":[336,18.3],"nice":false,"zero":false},
     "axis":{"zindex":1,"orient":"right","offset":-912,"values":[-4.5,-4,-3.5,-3,-2.5,-2,-1.5,-1,-0.5,0,0.5],"labels":false,"tickSize":-10,"title":null}}}},
 {"data":{"values":[{}]},"mark":{"type":"point","opacity":0},
  "encoding":{
   "x":{"datum":900,"type":"quantitative","scale":{"domain":[825,950],"range":[1401,1631.7],"nice":false,"zero":false},
     "axis":{"zindex":1,"orient":"bottom","offset":-330,"values":[850,875,900,925,950],"labelExpr":"datum.value === 900 || datum.value === 950 ? datum.label : ''","tickSize":-10,"labelPadding":24,"labelFontSize":28,"title":"B (G)","titleFontSize":29,"titleX":1519,"titleY":71,"titleAlign":"center","titleBaseline":"alphabetic"}},
   "y":{"datum":0,"type":"quantitative","scale":{"domain":[-5,1],"range":[336,18.3],"nice":false,"zero":false},
     "axis":{"zindex":1,"orient":"left","offset":-1401,"values":[-5,-4.5,-4,-3.5,-3,-2.5,-2,-1.5,-1,-0.5,0,0.5,1],"labelExpr":"datum.value % 1 === 0 ? '' + datum.value : ''","tickSize":-10,"labelPadding":18,"labelFontSize":28,"title":"a (10³a₀)","titleFontSize":32,"titleX":-56,"titleY":180,"titleAngle":-90,"titleAlign":"center","titleBaseline":"middle"}}}},
 {"data":{"values":[{}]},"mark":{"type":"point","opacity":0},
  "encoding":{
   "x":{"datum":900,"type":"quantitative","scale":{"domain":[825,950],"range":[1401,1631.7],"nice":false,"zero":false},
     "axis":{"zindex":1,"orient":"top","offset":-18.3,"values":[850,875,900,925],"labels":false,"tickSize":-10,"title":null}},
   "y":{"datum":0,"type":"quantitative","scale":{"domain":[-5,1],"range":[336,18.3],"nice":false,"zero":false},
     "axis":{"zindex":1,"orient":"right","offset":-56.3,"values":[-4.5,-4,-3.5,-3,-2.5,-2,-1.5,-1,-0.5,0,0.5],"labels":false,"tickSize":-10,"title":null}}}}
]
}
